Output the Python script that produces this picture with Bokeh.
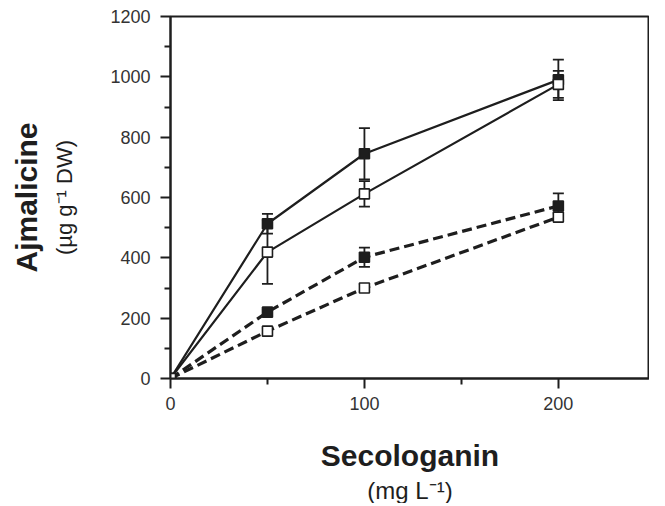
from bokeh.plotting import figure
from bokeh.models import ColumnDataSource, Whisker, TeeHead, Title, Range1d, FixedTicker
from bokeh.embed import file_html
from bokeh.resources import INLINE

# Data
secologanin = [0, 50, 100, 200]
solid_filled = [0, 513, 745, 990]
solid_filled_sd = [0, 33, 85, 67]
solid_open = [0, 419, 612, 975]
solid_open_sd = [0, 105, 42, 45]
dashed_filled = [0, 220, 402, 572]
dashed_filled_sd = [0, 10, 32, 42]
dashed_open = [0, 157, 300, 535]
dashed_open_sd = [0, 8, 12, 12]

x_ticks = [0, 100, 200]
x_minor = [50, 150, 250]
y_ticks = [0, 200, 400, 600, 800, 1000, 1200]
y_minor = [100, 300, 500, 700, 900, 1100]

INK = "#1e1e1e"
FONT = "Liberation Sans"

p = figure(width=649, height=503, x_range=Range1d(0, 247), y_range=Range1d(0, 1200),
           output_backend="svg", toolbar_location=None,
           min_border_left=60, min_border_right=0, min_border_top=16, min_border_bottom=10)
p.xgrid.visible = False
p.ygrid.visible = False
p.outline_line_color = INK
p.outline_line_width = 2
p.background_fill_color = "white"
p.border_fill_color = "white"

for ax in (p.xaxis[0], p.yaxis[0]):
    ax.axis_line_color = INK
    ax.axis_line_width = 2
    ax.major_tick_line_color = INK
    ax.major_tick_line_width = 2
    ax.minor_tick_line_color = INK
    ax.minor_tick_line_width = 2
    ax.major_tick_out = 10
    ax.major_tick_in = 0
    ax.minor_tick_out = 6
    ax.minor_tick_in = 0
    ax.major_label_text_font = FONT
    ax.major_label_text_font_size = "18px"
    ax.major_label_text_color = "#333333"
    ax.axis_label_text_font = FONT
    ax.axis_label_text_color = INK

p.yaxis.major_label_standoff = 10
p.xaxis.major_label_standoff = 8

p.xaxis.ticker = FixedTicker(ticks=x_ticks, minor_ticks=x_minor)
p.yaxis.ticker = FixedTicker(ticks=y_ticks, minor_ticks=y_minor)

p.xaxis.axis_label = "Secologanin"
p.xaxis.axis_label_text_font_style = "bold"
p.xaxis.axis_label_text_font_size = "30px"
p.xaxis.axis_label_standoff = 26

p.yaxis.axis_label = "(µg g⁻¹ DW)"
p.yaxis.axis_label_text_font_style = "normal"
p.yaxis.axis_label_text_font_size = "22px"
p.yaxis.axis_label_standoff = 30

t_left = Title(text="Ajmalicine", align="center", text_font=FONT, text_font_size="30px",
               text_font_style="bold", text_color=INK, standoff=14)
p.add_layout(t_left, "left")
t_below = Title(text="(mg L⁻¹)", align="center", text_font=FONT, text_font_size="24px",
                text_font_style="normal", text_color=INK, standoff=0)
p.add_layout(t_below, "below")

series = [
    (solid_filled, solid_filled_sd, "solid", True),
    (solid_open, solid_open_sd, "solid", False),
    (dashed_filled, dashed_filled_sd, "10 5", True),
    (dashed_open, dashed_open_sd, "10 5", False),
]

for ys, sd, dash, filled in series:
    src = ColumnDataSource(dict(x=secologanin, y=ys,
                                lo=[a - b for a, b in zip(ys, sd)],
                                hi=[a + b for a, b in zip(ys, sd)]))
    lw = 2.2 if dash == "solid" else 3.2
    p.line("x", "y", source=src, line_color=INK, line_width=lw, line_dash=dash)
    w = Whisker(base="x", lower="lo", upper="hi", source=src, line_color=INK, line_width=1.8,
                upper_head=TeeHead(size=11, line_color=INK, line_width=1.8),
                lower_head=TeeHead(size=11, line_color=INK, line_width=1.8))
    p.add_layout(w)
    p.scatter("x", "y", source=src, marker="square", size=10,
              fill_color=INK if filled else "white", line_color=INK, line_width=1.6)

open("out.html", "w").write(file_html(p, INLINE))
